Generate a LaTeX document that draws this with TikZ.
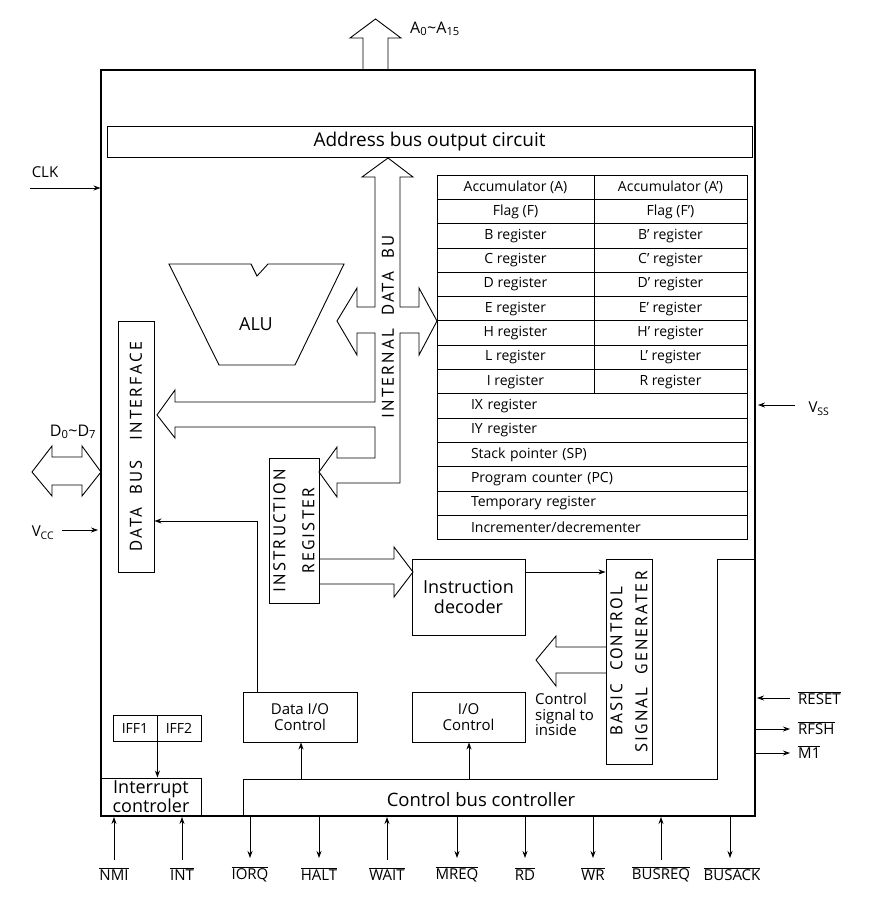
\documentclass[tikz,border=0pt]{standalone}
\usepackage{fontspec}
\setmainfont{Open Sans}
\newfontfamily\spc[LetterSpace=12]{PT Sans}
\usetikzlibrary{arrows.meta}
\newcommand{\ovl}[1]{$\overline{\mbox{#1}}$}
\begin{document}
\begin{tikzpicture}[x=1pt,y=-1pt,
  every node/.style={inner sep=0pt, font=\fontsize{14}{16}\selectfont},
  box/.style={draw, line width=0.9pt, align=center},
  cell/.style={draw, line width=0.8pt, minimum height=24.3pt},
  wide/.style={cell, minimum width=310pt, text width=242pt, inner xsep=34pt, align=left},
  big/.style={font=\fontsize{19}{22}\selectfont},
  mid/.style={font=\fontsize{15}{16}\selectfont},
  rot/.style={rotate=90, align=center},
  bus/.style={line width=0.9pt, line join=miter},
  arr/.style={line width=0.8pt, -{Stealth[length=7pt,width=5pt]}}
]
\useasboundingbox (0,0) rectangle (883,903);
% outer frame
\node[draw, line width=1.1pt, minimum width=654pt, minimum height=746pt] (outer) at (428,443) {};
% address bus
\node[box, big, minimum width=645pt, minimum height=31pt] (addr) at (429.5,141.5) {Address bus output circuit};
\draw[bus] (363,70) -- (363,38) -- (350,38) -- (375.5,19) -- (401,38) -- (388,38) -- (388,70);
\node[anchor=west, font=\fontsize{16}{18}\selectfont] (alab) at (410,29) {A\textsubscript{0}\textasciitilde A\textsubscript{15}};
% internal data bus
\draw[bus] (388,158) -- (413,177) -- (400,177) -- (400,307) -- (419,307) -- (419,288) -- (437,321)
  -- (419,355) -- (419,333) -- (400,333) -- (400,483) -- (337,483) -- (337,497) -- (319,472)
  -- (337,447) -- (337,458) -- (375,458) -- (375,427) -- (175,427) -- (175,438) -- (157,415)
  -- (175,390) -- (175,402) -- (375,402) -- (375,333) -- (357,333) -- (357,355) -- (337,321)
  -- (357,288) -- (357,307) -- (375,307) -- (375,177) -- (362,177) -- cycle;
\node[rot, font=\spc\fontsize{17}{20}\selectfont] (idb) at (388,327) {INTERNAL\ \ DATA\ \ BU};
% ALU
\draw[line width=0.9pt] (169,264) -- (251,264) -- (257,276) -- (268,264) -- (344,264) -- (295,365) -- (219,365) -- cycle;
\node[font=\fontsize{18}{20}\selectfont] (alu) at (256,324) {ALU};
% register file
\foreach \l/\r [count=\i from 0] in {Accumulator (A)/Accumulator (A’),Flag (F)/Flag (F’),B register/B’ register,C register/C’ register,D register/D’ register,E register/E’ register,H register/H’ register,L register/L’ register,I register/R register}{
  \node[cell, minimum width=157pt] (L\i) at (515.5,{175+24.3*(\i+0.5)}) {\l};
  \node[cell, minimum width=153pt] (R\i) at (670.5,{175+24.3*(\i+0.5)}) {\r};
}
\foreach \t [count=\i from 9] in {IX register,IY register,Stack pointer (SP),Program counter (PC),Temporary register,Incrementer/decrementer}{
  \node[wide] (W\i) at (592,{175+24.3*(\i+0.5)}) {\t};
}
% data bus interface
\node[box, minimum width=36pt, minimum height=251pt] (dbi) at (136,446.5) {};
\node[rot, font=\spc\fontsize{17}{20}\selectfont] at (dbi.center) {DATA\ \ BUS\ \ \ INTERFACE};
% D0-D7
\draw[bus] (101,472) -- (82,446) -- (82,457) -- (52,457) -- (52,446) -- (32,472) -- (52,496) -- (52,485) -- (82,485) -- (82,496) -- cycle;
\node[font=\fontsize{16}{18}\selectfont] (dlab) at (73,432) {D\textsubscript{0}\textasciitilde D\textsubscript{7}};
% instruction register
\node[box, minimum width=50pt, minimum height=145pt] (ir) at (294,530.5) {};
\node[rot, font=\spc\fontsize{17}{29}\selectfont] at (ir.center) {INSTRUCTION\\REGISTER};
\draw[bus] (319,559) -- (394,559) -- (394,547) -- (413,572) -- (394,597) -- (394,584) -- (319,584);
% instruction decoder
\node[box, font=\fontsize{18}{20}\selectfont, minimum width=113pt, minimum height=76pt] (dec) at (468.5,597) {Instruction\\decoder};
% basic control signal generator
\node[box, minimum width=46pt, minimum height=205pt] (bcsg) at (629,661.5) {};
\node[rot, font=\spc\fontsize{17}{25}\selectfont] at (bcsg.center) {BASIC\ \ CONTROL\\SIGNAL\ \ GENERATER};
\draw[arr] (dec.east |- 0,572) -- (bcsg.west |- 0,572);
\draw[bus] (606,647) -- (556,647) -- (556,636) -- (536,660) -- (556,686) -- (556,673) -- (606,673);
\node[anchor=north west, align=left, font=\fontsize{15}{15.5}\selectfont] (csig) at (535,693) {Control\\signal to\\inside};
% I/O controls
\node[box, mid, minimum width=113pt, minimum height=50pt] (ioc) at (468.5,717) {I/O\\Control};
\node[box, mid, minimum width=114pt, minimum height=50pt] (dioc) at (300,717) {Data I/O\\Control};
\draw[arr] (257,692) |- (dbi.east |- 0,521);
% interrupt
\node[box, minimum width=44pt, minimum height=26pt] (iff1) at (135,728) {IFF1};
\node[box, minimum width=44pt, minimum height=26pt] (iff2) at (179,728) {IFF2};
\node[box, font=\fontsize{18}{12.5}\selectfont, minimum width=100pt, minimum height=38pt] (intc) at (151,797) {Interrupt\\controler};
\draw[arr] (iff1.south east) -- (intc.north -| iff1.south east);
% control bus controller
\draw[line width=0.9pt] (243,816) -- (243,779) -- (717,779) -- (717,559) -- (755,559);
\node[font=\fontsize{18.5}{20}\selectfont] (cbc) at (481,800) {Control bus controller};
\coordinate (cbctop) at (243,779);
\draw[arr] (cbctop -| 301,0) -- (dioc.south -| 301,0);
\draw[arr] (cbctop -| 469,0) -- (ioc.south -| 469,0);
% left signals
\node[mid] (clk) at (45,172) {CLK};
\coordinate (clkin) at (30,188);
\draw[arr] (clkin) -- (clkin -| outer.west);
\node[mid] (vcc) at (43,533) {V\textsubscript{CC}};
\draw[arr] (62,530) -- (98,530);
\node[mid] (vss) at (819,409) {V\textsubscript{SS}};
\draw[arr] (795,405) -- (758,405);
% right signals
\node[mid, anchor=west] (reset) at (798,698) {\ovl{RESET}};
\draw[arr] (790,698) -- (757,698);
\node[mid, anchor=west] (rfsh) at (798,728) {\ovl{RFSH}};
\draw[arr] (outer.east |- 0,729) -- (790,729);
\node[mid, anchor=west] (mone) at (798,752) {\ovl{M1}};
\draw[arr] (outer.east |- 0,753) -- (790,753);
% bottom signals
\foreach \x/\n/\d in {114/NMI/u,182/INT/u,250/IORQ/d,319/HALT/d,387/WAIT/u,457/MREQ/d,525/RD/d,593/WR/d,661/BUSREQ/u,732/BUSACK/d}{
  \node[mid] (s\n) at (\x,874) {\ovl{\n}};
}
\foreach \x/\d in {114/u,182/u,250/d,319/d,387/u,457/d,525/d,593/d,661/u,730/d}{
  \if\d u
    \draw[arr] (\x,860) -- (\x,817);
  \else
    \draw[arr] (\x,816) -- (\x,858);
  \fi
}
\end{tikzpicture}
\end{document}
